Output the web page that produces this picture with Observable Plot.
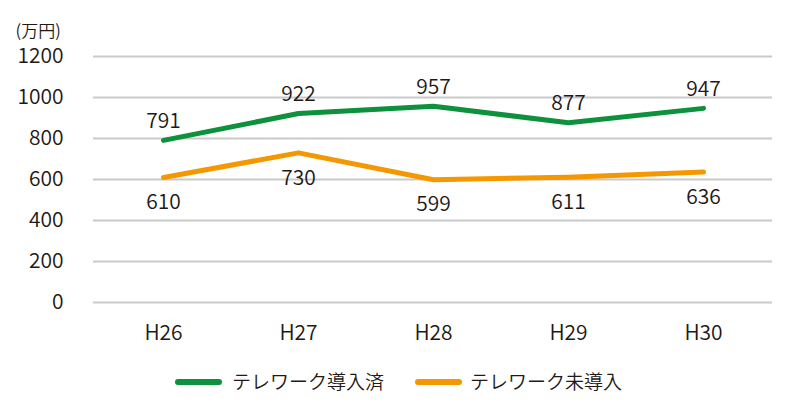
<!DOCTYPE html>
<html>
<head>
<meta charset="utf-8">
<script src="https://cdn.jsdelivr.net/npm/d3@7"></script>
<script src="https://cdn.jsdelivr.net/npm/@observablehq/plot@0.6"></script>
<style>
  body { margin: 0; background: #fff; font-family: "Noto Sans CJK JP", "Noto Sans", sans-serif; font-weight: 350; color: #231815; }
  #legend { position: relative; height: 54px; width: 787px; }
  .sw { position: absolute; top: 24px; width: 47px; height: 6px; border-radius: 3px; }
  .lt { position: absolute; top: 13px; font-size: 19px; line-height: 26px; white-space: nowrap; }
</style>
</head>
<body>
<div id="chart"></div>
<div id="legend"></div>
<script>
const years = ["H26", "H27", "H28", "H29", "H30"];
const adopted = [791, 922, 957, 877, 947];
const notAdopted = [610, 730, 599, 611, 636];
const seriesNames = ["テレワーク導入済", "テレワーク未導入"];
const colors = ["#0e913d", "#f39800"];
const yTicks = [0, 200, 400, 600, 800, 1000, 1200];
const unitLabel = "(万円)";

const dataA = years.map((y, i) => ({year: y, value: adopted[i]}));
const dataB = years.map((y, i) => ({year: y, value: notAdopted[i]}));

const font = '"Noto Sans CJK JP", "Noto Sans", sans-serif';

const chart = Plot.plot({
  width: 787,
  height: 355,
  marginLeft: 93,
  marginRight: 15,
  marginTop: 56,
  marginBottom: 53,
  style: {fontFamily: font, fontSize: "21px", fontWeight: 350, color: "#231815", background: "#fff"},
  x: {type: "point", domain: years, padding: 0.5, label: null, tickSize: 0, tickPadding: 23},
  y: {domain: [0, 1200], ticks: yTicks, tickFormat: d => String(d), label: null, tickSize: 0, tickPadding: 30},
  marks: [
    Plot.ruleY(yTicks, {stroke: "#c9c9c9", strokeWidth: 2}),
    Plot.line(dataB, {x: "year", y: "value", stroke: colors[1], strokeWidth: 5, strokeLinejoin: "round"}),
    Plot.line(dataA, {x: "year", y: "value", stroke: colors[0], strokeWidth: 5, strokeLinejoin: "round"}),
    Plot.text(dataA, {x: "year", y: "value", text: d => String(d.value), dy: -19, fontSize: 21, fill: "#231815"}),
    Plot.text(dataB, {x: "year", y: "value", text: d => String(d.value), dy: 25, fontSize: 21, fill: "#231815"}),
    Plot.text([unitLabel], {frameAnchor: "top-left", dx: -78, dy: -32, textAnchor: "start", fontSize: 17, fill: "#231815"})
  ]
});
document.getElementById("chart").appendChild(chart);

const legend = document.getElementById("legend");
const items = [
  {sw: 175, tx: 232},
  {sw: 415, tx: 470}
];
items.forEach((it, i) => {
  const s = document.createElement("span");
  s.className = "sw";
  s.style.left = it.sw + "px";
  s.style.background = colors[i];
  legend.appendChild(s);
  const t = document.createElement("span");
  t.className = "lt";
  t.style.left = it.tx + "px";
  t.textContent = seriesNames[i];
  legend.appendChild(t);
});
</script>
</body>
</html>
